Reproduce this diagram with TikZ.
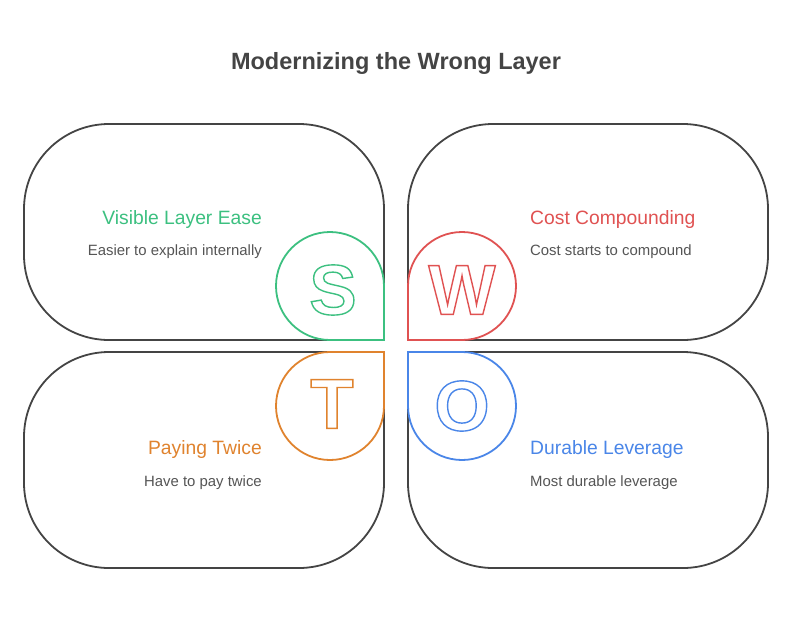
\documentclass[tikz,border=0pt]{standalone}
\usepackage{fontspec}
\setmainfont{Liberation Sans}
\definecolor{cgray}{HTML}{444444}
\definecolor{ctext}{HTML}{555555}
\definecolor{cgreen}{HTML}{3CC080}
\definecolor{cred}{HTML}{E05252}
\definecolor{corange}{HTML}{E0832E}
\definecolor{cblue}{HTML}{4A86E8}
\newcommand{\hollow}[2]{\textcolor{#1}{\special{pdf:literal direct 1 Tr 1.4 w}#2\special{pdf:literal direct 0 Tr}}}
\tikzset{
  card/.style={draw=cgray, line width=1.8pt, fill=white},
  drop/.style={line width=1.8pt, fill=white},
  head/.style={inner sep=0pt, font=\fontsize{19.3}{21}\selectfont},
  desc/.style={inner sep=0pt, text=ctext, font=\fontsize{14.9}{17}\selectfont},
  letter/.style={inner sep=0pt, font=\fontsize{71}{71}\bfseries\selectfont}
}
\begin{document}
\begin{tikzpicture}[x=1pt,y=1pt]
\useasboundingbox (0,0) rectangle (792,-616);
\node[inner sep=0pt, text=cgray, font=\fontsize{23.5}{26}\bfseries\selectfont] (title) at (396,-63) {Modernizing the Wrong Layer};
% cards
\draw[card] (384,-340) -- (109,-340) arc[start angle=270,end angle=180,radius=85] -- (24,-209) arc[start angle=180,end angle=90,radius=85] -- (299,-124) arc[start angle=90,end angle=0,radius=85] -- cycle;
\draw[card] (408,-340) -- (683,-340) arc[start angle=-90,end angle=0,radius=85] -- (768,-209) arc[start angle=0,end angle=90,radius=85] -- (493,-124) arc[start angle=90,end angle=180,radius=85] -- cycle;
\draw[card] (384,-352) -- (109,-352) arc[start angle=90,end angle=180,radius=85] -- (24,-483) arc[start angle=180,end angle=270,radius=85] -- (299,-568) arc[start angle=-90,end angle=0,radius=85] -- cycle;
\draw[card] (408,-352) -- (683,-352) arc[start angle=90,end angle=0,radius=85] -- (768,-483) arc[start angle=0,end angle=-90,radius=85] -- (493,-568) arc[start angle=270,end angle=180,radius=85] -- cycle;
% drops
\draw[drop, draw=cgreen] (384,-286) -- (384,-340) -- (330,-340) arc[start angle=270,end angle=0,radius=54] -- cycle;
\draw[drop, draw=cred] (408,-286) -- (408,-340) -- (462,-340) arc[start angle=-90,end angle=180,radius=54] -- cycle;
\draw[drop, draw=corange] (384,-406) -- (384,-352) -- (330,-352) arc[start angle=90,end angle=360,radius=54] -- cycle;
\draw[drop, draw=cblue] (408,-406) -- (408,-352) -- (462,-352) arc[start angle=90,end angle=-180,radius=54] -- cycle;
% letters
\node[letter] (S) at (333,-290) {\hollow{cgreen}{S}};
\node[letter] (W) at (462,-290) {\hollow{cred}{W}};
\node[letter] (T) at (332,-404) {\hollow{corange}{T}};
\node[letter] (O) at (462,-406) {\hollow{cblue}{O}};
% texts
\node[head, text=cgreen, anchor=base east] (h1) at (262,-224) {Visible Layer Ease};
\node[desc, anchor=base east] (d1) at (262,-255) {Easier to explain internally};
\node[head, text=cred, anchor=base west] (h2) at (530,-224) {Cost Compounding};
\node[desc, anchor=base west] (d2) at (530,-255) {Cost starts to compound};
\node[head, text=corange, anchor=base east] (h3) at (262,-454) {Paying Twice};
\node[desc, anchor=base east] (d3) at (262,-486) {Have to pay twice};
\node[head, text=cblue, anchor=base west] (h4) at (530,-454) {Durable Leverage};
\node[desc, anchor=base west] (d4) at (530,-486) {Most durable leverage};
\end{tikzpicture}
\end{document}
